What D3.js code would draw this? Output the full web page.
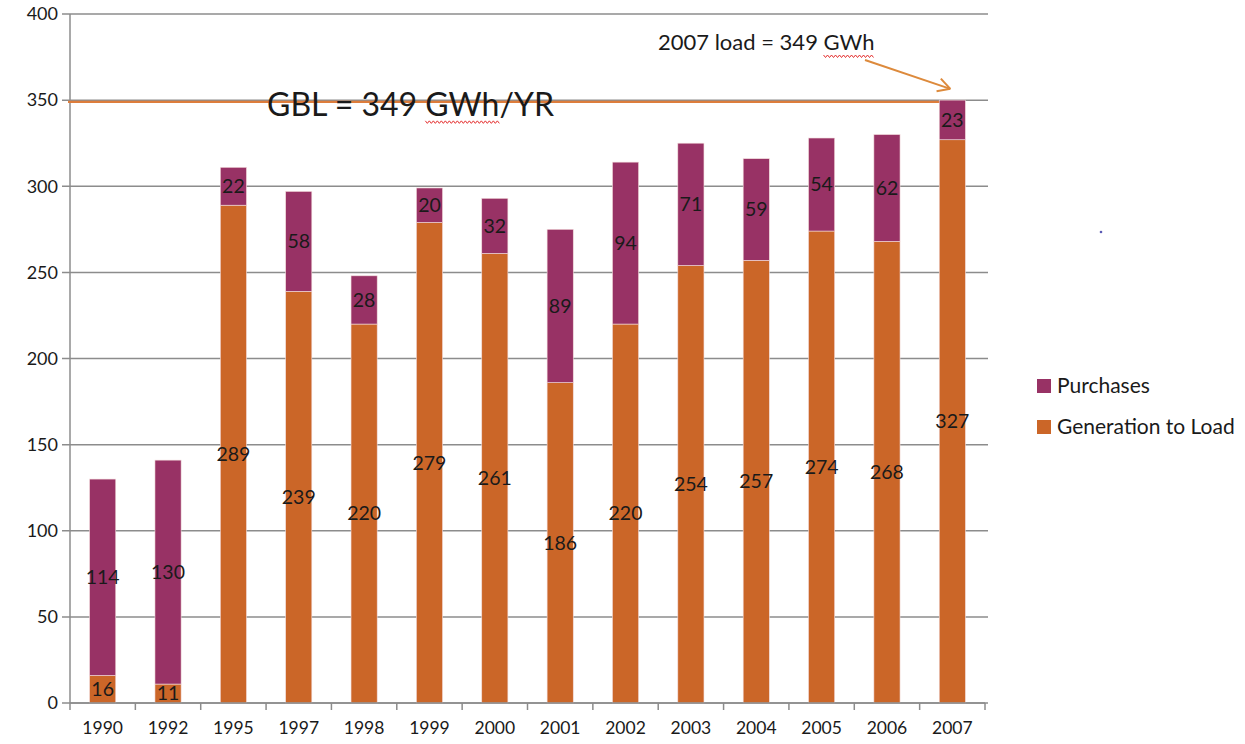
<!DOCTYPE html>
<html lang="en">
<head>
  <meta charset="UTF-8">
  <title>Generation to Load and Purchases</title>
  <script src="https://cdnjs.cloudflare.com/ajax/libs/d3/7.8.5/d3.min.js"></script>
  <style>
    body { margin: 0; padding: 0; background: #fff; }
    svg { display: block; font-family: Lato, "Open Sans", sans-serif; }
  </style>
</head>
<body>
<svg id="chart" width="1245" height="744"></svg>
<script>
  // data (GWh)
  const years = ["1990", "1992", "1995", "1997", "1998", "1999", "2000", "2001", "2002", "2003", "2004", "2005", "2006", "2007"];
  const generation = [16, 11, 289, 239, 220, 279, 261, 186, 220, 254, 257, 274, 268, 327];
  const purchases = [114, 130, 22, 58, 28, 20, 32, 89, 94, 71, 59, 54, 62, 23];
  const yTicks = [0, 50, 100, 150, 200, 250, 300, 350, 400];
  const gblValue = 349;
  const seriesNames = ["Purchases", "Generation to Load"];
  const colors = { "Generation to Load": "#cb6628", "Purchases": "#983265" };

  const svg = d3.select("#chart");
  const margin = { left: 70, right: 260, top: 14, bottom: 41 };
  const width = 1245, height = 744;

  const x = d3.scaleBand()
    .domain(years)
    .range([margin.left, 985])
    .paddingInner(0.6)
    .paddingOuter(0.3);
  const y = d3.scaleLinear()
    .domain([0, 400])
    .range([height - margin.bottom, margin.top]);

  // gridlines
  svg.append("g")
    .selectAll("line")
    .data(yTicks)
    .join("line")
    .attr("x1", margin.left - 8)
    .attr("x2", 988)
    .attr("y1", d => y(d))
    .attr("y2", d => y(d))
    .attr("stroke", "#8c8c8c")
    .attr("stroke-width", 1.5);

  // y tick labels
  svg.append("g")
    .selectAll("text")
    .data(yTicks)
    .join("text")
    .attr("x", 58)
    .attr("y", d => y(d))
    .attr("dy", "0.35em")
    .attr("text-anchor", "end")
    .attr("font-size", 18)
    .attr("fill", "#1a1a1a")
    .text(d => d);

  // y axis line
  svg.append("line")
    .attr("x1", margin.left).attr("x2", margin.left)
    .attr("y1", y(400)).attr("y2", y(0))
    .attr("stroke", "#8c8c8c").attr("stroke-width", 1.5);

  // GBL reference line (behind the bars)
  svg.append("line")
    .attr("x1", margin.left - 2)
    .attr("x2", x("2007") + x.bandwidth() / 2)
    .attr("y1", y(gblValue))
    .attr("y2", y(gblValue))
    .attr("stroke", "#dd7d3c")
    .attr("stroke-width", 2.2);

  // stacked bars
  const rows = years.map((yr, i) => ({ year: yr, "Generation to Load": generation[i], "Purchases": purchases[i] }));
  const stack = d3.stack().keys(["Generation to Load", "Purchases"])(rows);

  const layers = svg.append("g")
    .selectAll("g")
    .data(stack)
    .join("g")
    .attr("fill", d => colors[d.key]);

  layers.selectAll("rect")
    .data(d => d)
    .join("rect")
    .attr("x", d => x(d.data.year))
    .attr("y", d => y(d[1]))
    .attr("width", x.bandwidth())
    .attr("height", d => y(d[0]) - y(d[1]))
    .attr("stroke", "#f3dcdc")
    .attr("stroke-width", 0.6);

  // data labels centred in each segment
  layers.selectAll("text")
    .data(d => d.map(v => ({ v, key: d.key })))
    .join("text")
    .attr("x", d => x(d.v.data.year) + x.bandwidth() / 2)
    .attr("y", d => y((d.v[0] + d.v[1]) / 2))
    .attr("dy", "0.35em")
    .attr("text-anchor", "middle")
    .attr("font-size", 19.5)
    .attr("fill", "#1a1a1a")
    .text(d => d.v.data[d.key]);

  // x axis
  svg.append("line")
    .attr("x1", margin.left).attr("x2", 985)
    .attr("y1", y(0)).attr("y2", y(0))
    .attr("stroke", "#8c8c8c").attr("stroke-width", 1.5);
  const step = x.step();
  const tickXs = d3.range(years.length + 1).map(i => x.range()[0] + i * step);
  svg.append("g")
    .selectAll("line")
    .data(tickXs)
    .join("line")
    .attr("x1", d => d).attr("x2", d => d)
    .attr("y1", y(0)).attr("y2", y(0) + 7)
    .attr("stroke", "#8c8c8c").attr("stroke-width", 1.5);
  svg.append("g")
    .selectAll("text")
    .data(years)
    .join("text")
    .attr("x", d => x(d) + x.bandwidth() / 2)
    .attr("y", y(0) + 31)
    .attr("text-anchor", "middle")
    .attr("font-size", 17.5)
    .attr("fill", "#1a1a1a")
    .text(d => d);

  // annotations
  const gbl = svg.append("text")
    .attr("x", 267)
    .attr("y", y(gblValue) + 14)
    .attr("font-size", 32)
    .attr("fill", "#1a1a1a")
    .text("GBL = 349 GWh/YR");

  const loadNote = svg.append("text")
    .attr("x", 658)
    .attr("y", 50)
    .attr("font-size", 22)
    .attr("fill", "#1a1a1a")
    .text("2007 load = 349 GWh");

  // spell-check squiggles under "GWh"
  function squiggle(node, word, yy) {
    const s = node.textContent.indexOf(word);
    const x0 = +node.getAttribute("x") + node.getSubStringLength(0, s);
    const x1 = x0 + node.getSubStringLength(s, word.length);
    const pts = d3.range(x0, x1 + 0.1, 2).map((px, i) => [px, yy + (i % 2 ? 1.5 : -1)]);
    svg.append("path")
      .attr("d", d3.line()(pts))
      .attr("fill", "none")
      .attr("stroke", "#e53030")
      .attr("stroke-width", 1);
  }
  squiggle(gbl.node(), "GWh", y(gblValue) + 20);
  squiggle(loadNote.node(), "GWh", 56);

  // arrow from the note to the 2007 bar
  const ax0 = 865, ay0 = 60;
  const ax1 = x("2007") + x.bandwidth() / 2 - 2, ay1 = y(gblValue) - 13;
  svg.append("line")
    .attr("x1", ax0).attr("y1", ay0).attr("x2", ax1).attr("y2", ay1)
    .attr("stroke", "#dd8a3c").attr("stroke-width", 2);
  const ang = Math.atan2(ay1 - ay0, ax1 - ax0);
  [-0.5, 0.5].forEach(a => {
    svg.append("line")
      .attr("x1", ax1).attr("y1", ay1)
      .attr("x2", ax1 - 14 * Math.cos(ang + a))
      .attr("y2", ay1 - 14 * Math.sin(ang + a))
      .attr("stroke", "#dd8a3c").attr("stroke-width", 2);
  });

  // stray dot
  svg.append("circle")
    .attr("cx", 1101).attr("cy", 232).attr("r", 1.3).attr("fill", "#5a5ab4");

  // legend
  const legend = svg.append("g")
    .selectAll("g")
    .data(seriesNames)
    .join("g")
    .attr("transform", (d, i) => `translate(1037, ${386 + i * 41})`);
  legend.append("rect")
    .attr("x", 0).attr("y", -7)
    .attr("width", 14).attr("height", 14)
    .attr("fill", d => colors[d]);
  legend.append("text")
    .attr("x", 20)
    .attr("dy", "0.35em")
    .attr("font-size", 21)
    .attr("fill", "#1a1a1a")
    .text(d => d);
</script>
</body>
</html>
